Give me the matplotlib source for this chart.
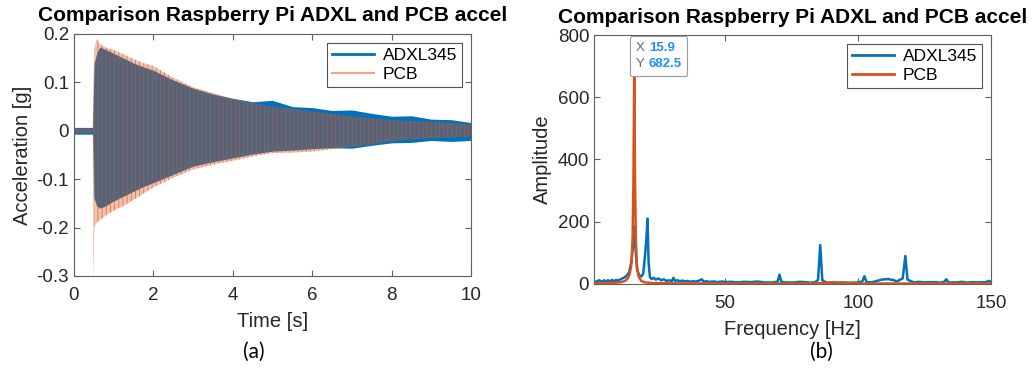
import matplotlib
matplotlib.use("Agg")
import matplotlib.pyplot as plt
from matplotlib.lines import Line2D
from matplotlib.offsetbox import TextArea, HPacker, VPacker, AnnotationBbox

plt.rcParams['font.family'] = ['Liberation Sans', 'DejaVu Sans']
plt.rcParams['hatch.linewidth'] = 0.6

# ---- (a) time signal, read as envelopes from the picture ----
time_s = [0, 0.47, 0.49, 0.5, 0.51, 0.57, 0.65, 0.8, 1.0, 1.25, 1.5, 1.75, 2.0, 2.5,
          3.0, 3.5, 4.0, 4.5, 5.0, 5.5, 6.0, 6.5, 7.0, 7.5, 8.0, 8.5, 9.0, 9.5, 10.0]
adxl_hi = [0.007, 0.007, 0.08, 0.115, 0.14, 0.16, 0.173, 0.168, 0.160, 0.150, 0.140, 0.132,
           0.125, 0.105, 0.088, 0.076, 0.067, 0.060, 0.063, 0.050, 0.048, 0.042, 0.043,
           0.036, 0.030, 0.031, 0.024, 0.023, 0.017]
adxl_lo = [-0.007, -0.007, -0.05, -0.135, -0.14, -0.155, -0.16, -0.155, -0.145, -0.135,
           -0.125, -0.115, -0.107, -0.09, -0.073, -0.064, -0.056, -0.048, -0.042, -0.040,
           -0.037, -0.035, -0.036, -0.030, -0.025, -0.024, -0.020, -0.022, -0.020]
pcb_hi = [0.005, 0.005, 0.05, 0.12, 0.17, 0.19, 0.18, 0.172, 0.167, 0.158, 0.148, 0.14,
          0.134, 0.11, 0.09, 0.078, 0.066, 0.058, 0.05, 0.045, 0.04, 0.035, 0.03, 0.026,
          0.022, 0.02, 0.019, 0.016, 0.013]
pcb_lo = [-0.005, -0.005, -0.1, -0.32, -0.2, -0.19, -0.185, -0.175, -0.165, -0.155, -0.143,
          -0.13, -0.117, -0.097, -0.08, -0.07, -0.062, -0.053, -0.046, -0.045, -0.043,
          -0.038, -0.033, -0.028, -0.022, -0.018, -0.015, -0.014, -0.013]

# ---- (b) spectrum ----
adxl_f = [0.8, 1.5, 2, 2.6, 3, 3.5, 4, 4.6, 5, 5.5, 6, 6.6, 7, 7.5, 8, 8.5, 9, 9.6, 10, 11,
          12, 13, 14, 14.8, 15.4, 15.9, 16.4, 17, 17.8, 18.6, 19.3, 20, 20.5, 20.9, 21.3,
          21.8, 22.5, 23.2, 24, 25, 26, 27, 28, 29, 30, 30.6, 31.2, 32, 33, 34, 35, 36, 37,
          38, 39, 40, 41.3, 42, 43, 44, 46, 47, 49, 50, 52, 55, 57, 60, 62, 65, 68, 69.8,
          70.5, 71.2, 73, 76, 78, 80, 82, 84, 85, 85.8, 86.6, 88, 91, 94, 97, 100, 101.6,
          102.4, 103.2, 105, 108, 109, 110, 111.5, 112.5, 113, 114.5, 116.8, 117.8, 118.6,
          121, 123, 125, 127, 129, 131, 132.4, 133.2, 134, 137, 139, 141, 143, 145, 148,
          149.3, 150]
adxl_amp = [10, 6, 9, 12, 11, 7, 8, 12, 10, 8, 12, 9, 9, 13, 11, 8, 13, 10, 12, 16,
            20, 26, 38, 70, 120, 185, 110, 45, 28, 24, 34, 95, 150, 210, 70,
            22, 16, 20, 14, 18, 12, 15, 10, 12, 9, 20, 10, 12, 9, 11, 8, 10, 7,
            9, 8, 10, 15, 7, 9, 7, 8, 6, 8, 6, 7, 5, 7, 6, 8, 5, 5, 8,
            30, 7, 5, 5, 7, 6, 4, 6, 14, 125, 12, 5, 4, 5, 4, 5, 8,
            25, 6, 5, 12, 14, 15, 16, 13, 14, 8, 18, 90, 14,
            5, 7, 5, 6, 6, 4, 7, 15, 5, 5, 7, 4, 6, 5, 6,
            10, 5]
pcb_f = [0.8, 5, 9, 11, 12.5, 13.5, 14.3, 14.9, 15.3, 15.6, 15.9, 16.2, 16.5, 16.9, 17.5,
         18.5, 20, 23, 30, 50, 80, 88, 91, 94, 100, 150]
pcb_amp = [2, 3, 4, 6, 10, 18, 35, 70, 150, 330, 682.5, 330, 150, 60, 25, 10, 5, 3, 2, 1.5,
           1.5, 3, 6, 3, 1.5, 1.5]
peak_f, peak_amp = 15.9, 682.5

blue = '#0072BD'
orange = '#D95319'
salmon = '#F4A582'
txt = '#262626'
edge = '#606060'
title = 'Comparison Raspberry Pi ADXL and PCB accel'

fig = plt.figure(figsize=(10.36, 3.76), dpi=100)
ax1 = fig.add_axes([0.0714, 0.266, 0.3832, 0.6436])
ax2 = fig.add_axes([0.5734, 0.2447, 0.3832, 0.6622])


def style(ax):
    for s in ax.spines.values():
        s.set_color(edge)
        s.set_linewidth(0.8)
    ax.tick_params(direction='in', top=True, right=True, length=4, width=0.8,
                   color=edge, labelcolor=txt, labelsize=13.5)
    ax.tick_params(axis='x', pad=8)
    ax.set_title(title, fontsize=15, fontweight='bold', color='black', pad=9)


ax1.fill_between(time_s, adxl_lo, adxl_hi, color=blue, lw=0, zorder=1)
ax1.fill_between(time_s, pcb_lo, pcb_hi, facecolor=orange, alpha=0.35, lw=0, zorder=2)
ax1.fill_between(time_s, pcb_lo, pcb_hi, facecolor='none', edgecolor=orange, hatch='||||',
                 alpha=0.7, lw=0, zorder=3)
ax1.set_xlim(0, 10)
ax1.set_ylim(-0.3, 0.2)
ax1.set_xticks(range(0, 11, 2))
ax1.set_yticks([-0.3, -0.2, -0.1, 0, 0.1, 0.2])
ax1.set_yticklabels(['-0.3', '-0.2', '-0.1', '0', '0.1', '0.2'])
ax1.set_xlabel('Time [s]', fontsize=14.5, color=txt, labelpad=6)
ax1.set_ylabel('Acceleration [g]', fontsize=14.5, color=txt, labelpad=3)
style(ax1)
h1 = [Line2D([], [], color=blue, lw=2), Line2D([], [], color=salmon, lw=1.5)]
leg1 = ax1.legend(h1, ['ADXL345', 'PCB'], loc='upper right', fontsize=12.5, fancybox=False,
                  handlelength=2.4, borderpad=0.3, labelspacing=0.2, handletextpad=0.5,
                  borderaxespad=0.5)
leg1.get_frame().set_edgecolor(txt)
leg1.get_frame().set_linewidth(0.8)

ax2.plot(adxl_f, adxl_amp, color=blue, lw=1.8, zorder=2)
ax2.plot(pcb_f, pcb_amp, color=orange, lw=1.8, zorder=3)
ax2.plot([peak_f], [peak_amp], 'o', color='black', ms=3.5, zorder=5)
ax2.set_xlim(0.8, 150)
ax2.set_ylim(0, 800)
ax2.set_xticks([50, 100, 150])
ax2.set_yticks(range(0, 801, 200))
ax2.set_xlabel('Frequency [Hz]', fontsize=14.5, color=txt, labelpad=6)
ax2.set_ylabel('Amplitude', fontsize=14.5, color=txt, labelpad=4)
style(ax2)
h2 = [Line2D([], [], color=blue, lw=2), Line2D([], [], color=orange, lw=2)]
leg2 = ax2.legend(h2, ['ADXL345', 'PCB'], loc='upper right', fontsize=12.5, fancybox=False,
                  handlelength=2.4, borderpad=0.3, labelspacing=0.2, handletextpad=0.5,
                  borderaxespad=0.5)
leg2.get_frame().set_edgecolor(txt)
leg2.get_frame().set_linewidth(0.8)

# data tip
tip_blue = '#1E90FF'
rows = []
for k, v in [('X', '15.9'), ('Y', '682.5')]:
    rows.append(HPacker(children=[TextArea(k, textprops=dict(color='#666666', fontsize=9.5)),
                                  TextArea(v, textprops=dict(color=tip_blue, fontsize=9.5,
                                                             fontweight='bold'))],
                        pad=0, sep=3))
box = VPacker(children=rows, pad=0, sep=3, align='left')
ab = AnnotationBbox(box, (peak_f, peak_amp), xybox=(1, 1), xycoords='data',
                    boxcoords='offset points', box_alignment=(0, 0), pad=0.5,
                    bboxprops=dict(boxstyle='round,pad=0.4,rounding_size=0.15',
                                   facecolor='white', edgecolor='#9a9a9a', lw=0.8),
                    zorder=6, annotation_clip=False)
ax2.add_artist(ab)

fig.text(0.245, 0.064, '(a)', fontsize=15, family=['Lato', 'DejaVu Sans'], color='black',
         ha='center', va='center')
fig.text(0.793, 0.064, '(b)', fontsize=15, family=['Lato', 'DejaVu Sans'], color='black',
         ha='center', va='center')

fig.savefig('out.png', dpi=100)
